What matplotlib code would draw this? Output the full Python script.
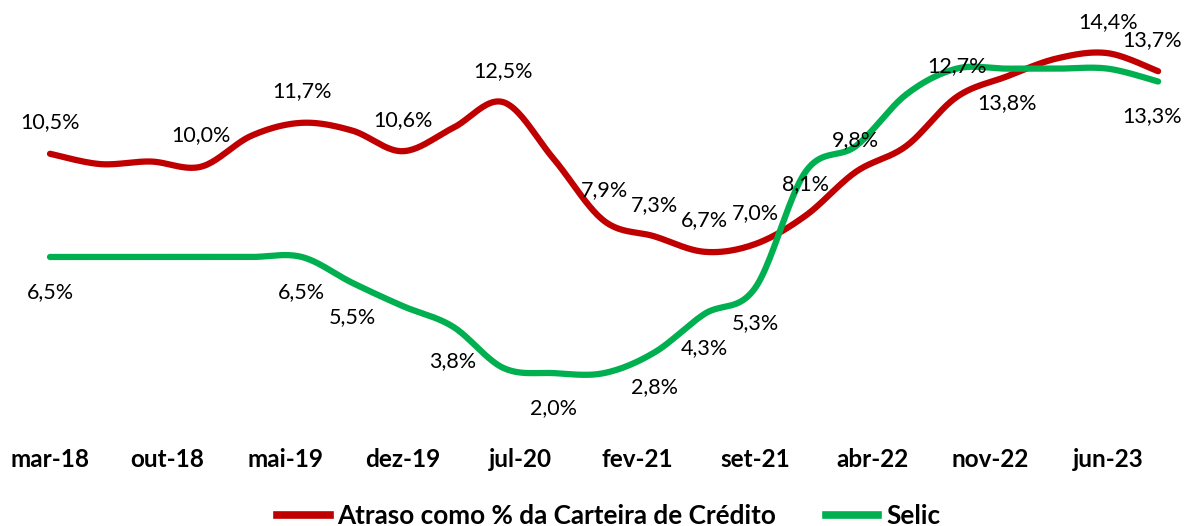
import numpy as np
import matplotlib
matplotlib.use('Agg')
import matplotlib.pyplot as plt
from matplotlib.lines import Line2D

# quarterly observations, months counted from mar-18 (mar-18 .. set-23)
months = list(range(0, 67, 3))
atraso = [10.5, 10.1, 10.2, 10.0, 11.2, 11.7, 11.4, 10.6, 11.5, 12.5, 10.3, 7.9,
          7.3, 6.7, 7.0, 8.1, 9.8, 10.8, 12.7, 13.5, 14.2, 14.4, 13.7]
selic = [6.5, 6.5, 6.5, 6.5, 6.5, 6.5, 5.5, 4.6, 3.8, 2.2, 2.0, 2.0,
         2.8, 4.3, 5.3, 9.8, 10.8, 12.8, 13.8, 13.8, 13.8, 13.8, 13.3]

# which points carry a data label
atraso_labeled = [0, 9, 15, 21, 27, 33, 36, 39, 42, 45, 48, 54, 63, 66]
selic_labeled = [0, 15, 18, 24, 30, 36, 39, 42, 57, 66]

tick_months = list(range(0, 64, 7))
tick_labels = ['mar-18', 'out-18', 'mai-19', 'dez-19', 'jul-20',
               'fev-21', 'set-21', 'abr-22', 'nov-22', 'jun-23']

series_names = ['Atraso como % da Carteira de Crédito', 'Selic']
RED = '#C00000'
GREEN = '#00B050'

label_font = ['Lato', 'DejaVu Sans']
axis_font = ['Lato', 'DejaVu Sans']


def smooth(x, y, n=24):
    # Catmull-Rom curve through the points, close to Excel's "smoothed line"
    p = np.column_stack([x, y]).astype(float)
    p = np.vstack([p[0], p, p[-1]])
    t = np.linspace(0, 1, n, endpoint=False)[:, None]
    h00 = 2 * t**3 - 3 * t**2 + 1
    h10 = t**3 - 2 * t**2 + t
    h01 = -2 * t**3 + 3 * t**2
    h11 = t**3 - t**2
    pts = []
    for i in range(1, len(p) - 2):
        m1 = (p[i + 1] - p[i - 1]) / 2
        m2 = (p[i + 2] - p[i]) / 2
        pts.append(h00 * p[i] + h10 * m1 + h01 * p[i + 1] + h11 * m2)
    pts.append(p[-2][None, :])
    pts = np.vstack(pts)
    return pts[:, 0], pts[:, 1]


def fmt(v):
    return f'{v:.1f}%'.replace('.', ',')


fig = plt.figure(figsize=(11.89, 5.26), dpi=100)
ax = fig.add_axes([0, 0.1926, 1, 0.8074])

sx, sy = smooth(months, atraso)
ax.plot(sx, sy, color=RED, lw=4.5, solid_capstyle='round')
sx, sy = smooth(months, selic)
ax.plot(sx, sy, color=GREEN, lw=4.5, solid_capstyle='round')

last = months[-1]
for m, v in zip(months, atraso):
    if m in atraso_labeled:
        dx = -4 if m == last else 0
        ax.annotate(fmt(v), (m, v), xytext=(dx, 22.5), textcoords='offset points',
                    ha='center', va='center', fontsize=15.5, family=label_font)
for m, v in zip(months, selic):
    if m in selic_labeled:
        dx = -4 if m == last else 0
        ax.annotate(fmt(v), (m, v), xytext=(dx, -25), textcoords='offset points',
                    ha='center', va='center', fontsize=15.5, family=label_font)

ax.set_xlim(-2.978, 67.84)
ax.set_ylim(0, 16.46)
ax.set_yticks([])
ax.set_xticks(tick_months)
ax.set_xticklabels(tick_labels, fontsize=17.5, fontweight='bold', family=axis_font)
ax.tick_params(axis='x', length=0, pad=16.5)
for s in ax.spines.values():
    s.set_visible(False)

handles = [Line2D([], [], color=RED, lw=5.5), Line2D([], [], color=GREEN, lw=5.5)]
fig.legend(handles, series_names, loc='center', bbox_to_anchor=(0.512, 0.019),
           ncol=2, frameon=False, handlelength=2.0, handletextpad=0.3,
           columnspacing=1.9, prop={'family': axis_font, 'weight': 'bold', 'size': 18.8})

fig.savefig('out.png', dpi=100)
